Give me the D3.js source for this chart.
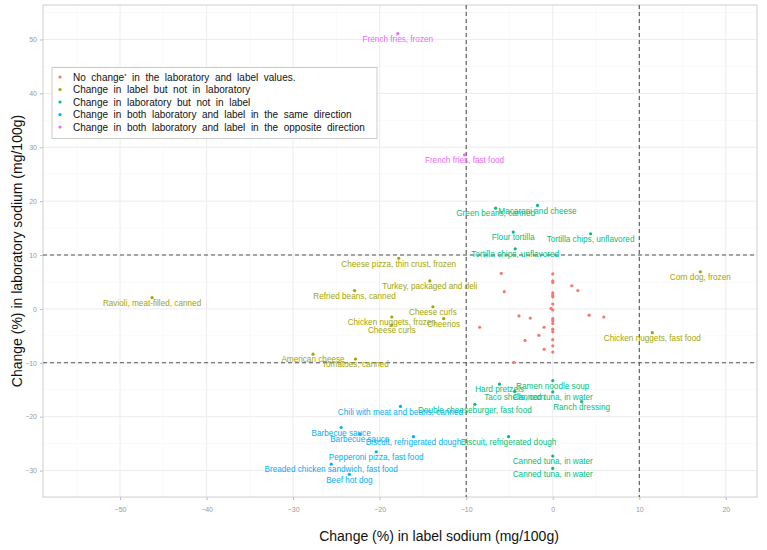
<!DOCTYPE html>
<html><head><meta charset="utf-8">
<script src="https://cdn.jsdelivr.net/npm/d3@7"></script>
<style>
body{margin:0;background:#fff;}
svg{display:block;font-family:"Liberation Sans",Arial,sans-serif;}
</style></head>
<body><svg id="c" width="767" height="550"></svg>
<script>
// ---- data ----
const categories = [
  "No change* in the laboratory and label values.",
  "Change  in  label  but  not  in  laboratory",
  "Change  in  laboratory  but  not  in  label",
  "Change  in  both  laboratory  and  label  in  the  same  direction",
  "Change  in  both  laboratory  and  label  in  the  opposite  direction"
];
const seriesColors = ["#F8766D", "#A3A500", "#00BF7D", "#00B0F6", "#E76BF3"];

// [label change x, lab change y]
const noChange = [
  [-5.95, 6.6], [0, 6.5], [0, 5.2], [0, 4.9], [2.2, 4.3], [2.9, 3.4], [-5.6, 3.2],
  [0, 3.0], [0, 2.6], [0, 2.25], [0, 0.9], [-0.2, 0.1], [0, -0.2], [-3.9, -1.3],
  [-2.6, -1.7], [4.2, -1.15], [5.9, -1.5], [0, -1.8], [0, -2.2], [0, -2.7],
  [-8.45, -3.4], [-1.0, -3.4], [0, -3.75], [0, -4.25], [-1.6, -4.9], [-3.2, -5.85],
  [0, -5.7], [-1.0, -7.5], [0, -6.85], [0, -8.0], [-4.5, -9.9]
];
// [name, x, y]
const labelOnly = [
  ["Ravioli, meat-filled, canned", -46.3, 2.1],
  ["Cheese pizza, thin crust, frozen", -17.8, 9.4],
  ["Turkey, packaged and deli", -14.2, 5.2],
  ["Refried beans, canned", -22.9, 3.4],
  ["Cheese curls", -13.85, 0.4],
  ["Chicken nuggets, frozen", -18.6, -1.5],
  ["Cheerios", -12.6, -1.8],
  ["Cheese curls", -18.6, -3.0],
  ["American cheese", -27.7, -8.4],
  ["Tomatoes, canned", -22.8, -9.3],
  ["Corn dog, frozen", 17.05, 6.9],
  ["Chicken nuggets, fast food", 11.5, -4.4]
];
const labOnly = [
  ["Green beans, canned", -6.6, 18.7],
  ["Macaroni and cheese", -1.76, 19.2],
  ["Flour tortilla", -4.57, 14.26],
  ["Tortilla chips, unflavored", 4.37, 13.95],
  ["Tortilla chips, unflavored", -4.34, 11.16],
  ["Hard pretzels", -6.15, -13.96],
  ["Ramen noodle soup", 0, -13.3],
  ["Taco shells, corn", -4.4, -15.3],
  ["Canned tuna, in water", 0, -15.4],
  ["Ranch dressing", 3.33, -17.2],
  ["Double cheeseburger, fast food", -9.0, -17.7],
  ["Biscuit, refrigerated dough", -5.1, -23.7],
  ["Canned tuna, in water", 0, -27.3],
  ["Canned tuna, in water", 0, -29.6]
];
const sameDir = [
  ["Chili with meat and beans, canned", -17.6, -18.1],
  ["Barbecue sauce", -24.45, -22.0],
  ["Barbecue sauce", -22.3, -23.2],
  ["Biscuit, refrigerated dough", -16.1, -23.7],
  ["Pepperoni pizza, fast food", -20.4, -26.5],
  ["Breaded chicken sandwich, fast food", -25.6, -28.8],
  ["Beef hot dog", -23.5, -30.7]
];
const oppositeDir = [
  ["French fries, frozen", -17.9, 51.1],
  ["French fries, fast food", -10.2, 28.6]
];
const xTicks = [-50, -40, -30, -20, -10, 0, 10, 20];
const yTicks = [-30, -20, -10, 0, 10, 20, 30, 40, 50];
const refLines = [-10, 10];
const xTitle = "Change (%) in label sodium (mg/100g)";
const yTitle = "Change (%) in laboratory sodium (mg/100g)";

// ---- drawing ----
const svg = d3.select("#c");
const P = {l: 43, r: 757, t: 5, b: 497};
const x = d3.scaleLinear().domain([-58.9, 23.6]).range([P.l, P.r]);
const y = d3.scaleLinear().domain([-34.9, 56.4]).range([P.b, P.t]);

svg.append("rect").attr("x", P.l).attr("y", P.t).attr("width", P.r - P.l).attr("height", P.b - P.t)
  .attr("fill", "#fff");

// grid minor + major
const xMinor = d3.range(-55, 25, 10);
const yMinor = d3.range(-35, 56, 10);
const g = svg.append("g");
g.selectAll(".xm").data(xMinor).join("line").attr("x1", d => x(d)).attr("x2", d => x(d))
  .attr("y1", P.t).attr("y2", P.b).attr("stroke", "#f5f5f5").attr("stroke-width", 0.6);
g.selectAll(".ym").data(yMinor).join("line").attr("y1", d => y(d)).attr("y2", d => y(d))
  .attr("x1", P.l).attr("x2", P.r).attr("stroke", "#f5f5f5").attr("stroke-width", 0.6);
g.selectAll(".xM").data(xTicks).join("line").attr("x1", d => x(d)).attr("x2", d => x(d))
  .attr("y1", P.t).attr("y2", P.b).attr("stroke", "#ececec").attr("stroke-width", 1);
g.selectAll(".yM").data(yTicks).join("line").attr("y1", d => y(d)).attr("y2", d => y(d))
  .attr("x1", P.l).attr("x2", P.r).attr("stroke", "#ececec").attr("stroke-width", 1);

// axes
const xAxis = svg.append("g").attr("transform", `translate(0,${P.b})`)
  .call(d3.axisBottom(x).tickValues(xTicks).tickSize(3).tickPadding(7));
const yAxis = svg.append("g").attr("transform", `translate(${P.l},0)`)
  .call(d3.axisLeft(y).tickValues(yTicks).tickSize(3).tickPadding(3));
[xAxis, yAxis].forEach(a => {
  a.select(".domain").remove();
  a.selectAll(".tick line").attr("stroke", "#bbb");
  a.selectAll(".tick text").attr("fill", "#999").attr("font-size", 7)
    .attr("font-family", "Liberation Sans, Arial, sans-serif");
});

// panel border
svg.append("rect").attr("x", P.l).attr("y", P.t).attr("width", P.r - P.l).attr("height", P.b - P.t)
  .attr("fill", "none").attr("stroke", "#d0d0d0").attr("stroke-width", 1);

// reference dashed lines
svg.selectAll(".vref").data(refLines).join("line")
  .attr("x1", d => x(d)).attr("x2", d => x(d)).attr("y1", P.t).attr("y2", P.b)
  .attr("stroke", "#555").attr("stroke-width", 1.1).attr("stroke-dasharray", "4,3");
svg.selectAll(".href").data(refLines).join("line")
  .attr("y1", d => y(d)).attr("y2", d => y(d)).attr("x1", P.l).attr("x2", P.r)
  .attr("stroke", "#555").attr("stroke-width", 1.1).attr("stroke-dasharray", "4,3");

// points
svg.append("g").selectAll("circle").data(noChange).join("circle")
  .attr("cx", d => x(d[0])).attr("cy", d => y(d[1])).attr("r", 1.6).attr("fill", seriesColors[0]);

const labelled = [[labelOnly, 1], [labOnly, 2], [sameDir, 3], [oppositeDir, 4]];
labelled.forEach(([arr, ci]) => {
  const gg = svg.append("g");
  gg.selectAll("circle").data(arr).join("circle")
    .attr("cx", d => x(d[1])).attr("cy", d => y(d[2])).attr("r", 1.6).attr("fill", seriesColors[ci]);
  gg.selectAll("text").data(arr).join("text")
    .attr("x", d => x(d[1])).attr("y", d => y(d[2] - 1)).attr("dy", "0.35em")
    .attr("text-anchor", "middle").attr("font-size", 8.2).attr("fill", seriesColors[ci])
    .text(d => d[0]);
});

// legend
const L = svg.append("g");
L.append("rect").attr("x", 52).attr("y", 67.5).attr("width", 325).attr("height", 71)
  .attr("fill", "#fff").attr("stroke", "#ccc").attr("stroke-width", 1);
const rowY = [77, 89.5, 102, 114.5, 127];
categories.forEach((c, i) => {
  L.append("circle").attr("cx", 60).attr("cy", rowY[i]).attr("r", 1.6).attr("fill", seriesColors[i]);
  const t = L.append("text").attr("x", 73).attr("y", rowY[i]).attr("dy", "0.35em")
    .attr("font-size", 10).attr("fill", "#111").attr("xml:space", "preserve");
  if (i === 0) {
    t.append("tspan").text("No  change");
    t.append("tspan").attr("font-size", 6).attr("dy", "-0.5em").text("*");
    t.append("tspan").attr("dy", "0.3em").text("  in  the  laboratory  and  label  values.");
  } else {
    t.text(c);
  }
});

// axis titles
svg.append("text").attr("x", 439).attr("y", 541).attr("text-anchor", "middle")
  .attr("font-size", 14).attr("fill", "#111").text(xTitle);
svg.append("text").attr("transform", `translate(22,${(P.t + P.b) / 2}) rotate(-90)`)
  .attr("text-anchor", "middle").attr("font-size", 14).attr("fill", "#111").text(yTitle);
</script></body></html>
